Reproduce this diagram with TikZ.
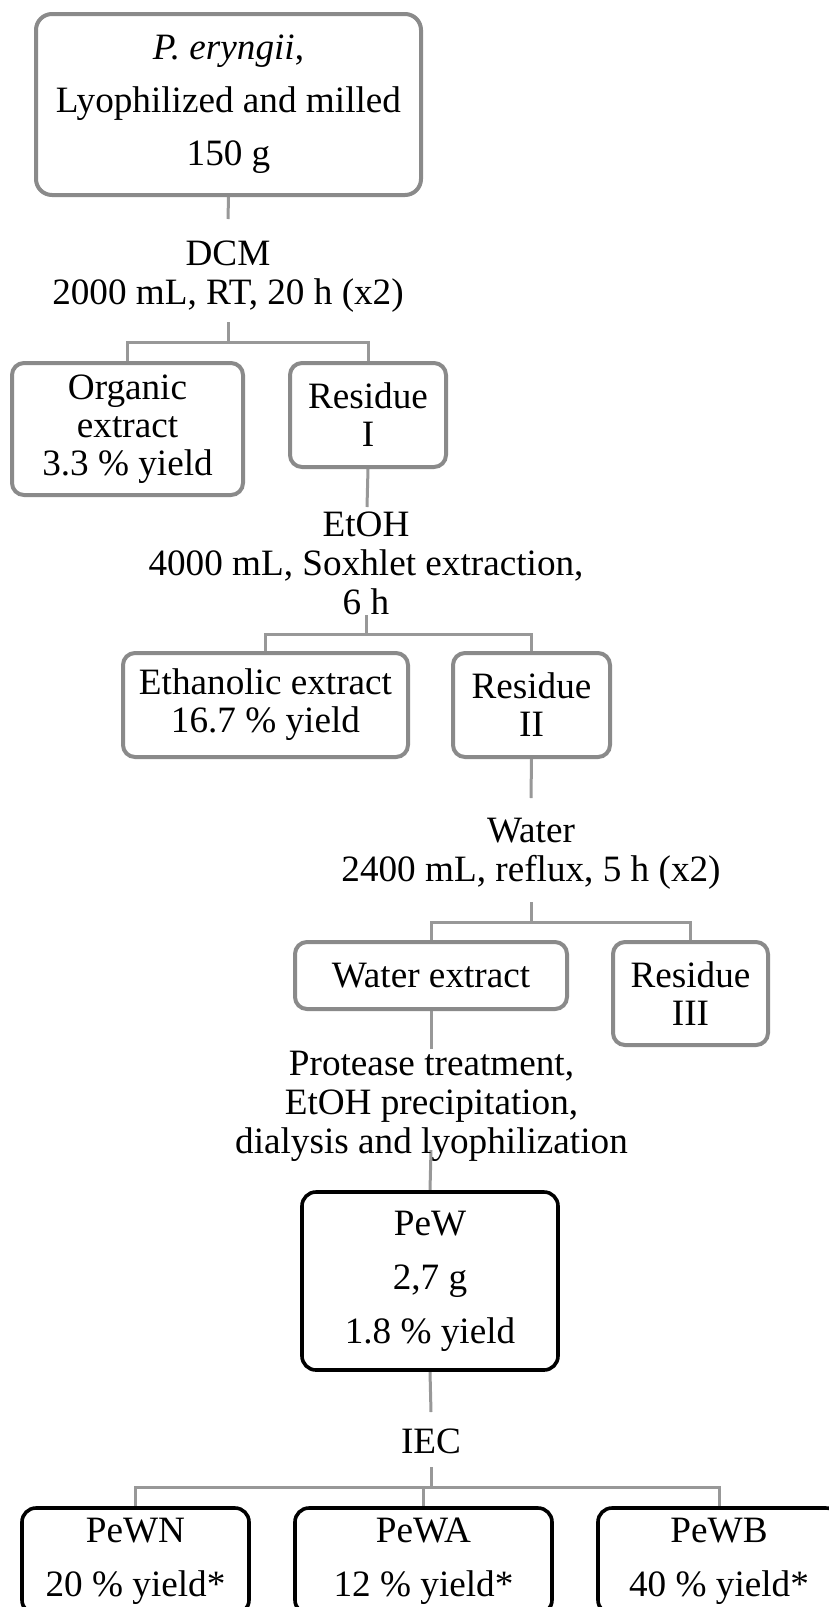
\documentclass[tikz,border=0pt]{standalone}
\usepackage{fontspec}
\setmainfont{Liberation Serif}
\usetikzlibrary{backgrounds}
\definecolor{boxgray}{RGB}{138,138,138}
\definecolor{linegray}{RGB}{152,152,152}
\begin{document}
\begin{tikzpicture}[x=0.5pt,y=-0.5pt,
  graybox/.style={draw=boxgray, line width=2pt, rounded corners=6pt, align=center, font=\fontsize{18.6}{19}\selectfont, inner sep=0pt},
  blackbox/.style={draw=black, line width=1.8pt, rounded corners=7pt, align=center, font=\fontsize{18.6}{27}\selectfont, inner sep=0pt},
  lbl/.style={align=center, font=\fontsize{18.6}{19.5}\selectfont, inner sep=0pt, anchor=north},
  conn/.style={draw=linegray, line width=1.5pt}]
\useasboundingbox (0,0) rectangle (829,1607);
\clip (0,0) rectangle (829,1607);

% boxes
\node[graybox, minimum width=192.5pt, minimum height=90.5pt, rounded corners=8pt, font=\fontsize{18.6}{26.5}\selectfont] (top) at (228.5,104.5) {\textit{P. eryngii},\\Lyophilized and milled\\150 g};
\node[graybox, minimum width=115.5pt, minimum height=66pt] (org) at (127.5,429) {Organic\\extract\\3.3 \% yield};
\node[graybox, minimum width=78pt, minimum height=52pt] (res1) at (368,415) {Residue\\I};
\node[graybox, minimum width=142.5pt, minimum height=52pt] (eth) at (265.5,705) {Ethanolic extract\\16.7 \% yield};
\node[graybox, minimum width=78.5pt, minimum height=52pt] (res2) at (531.5,705) {Residue\\II};
\node[graybox, minimum width=136pt, minimum height=33.5pt] (wext) at (431,975.5) {Water extract};
\node[graybox, minimum width=77.5pt, minimum height=51.5pt] (res3) at (690.5,993.5) {Residue\\III};
\node[blackbox, minimum width=128pt, minimum height=89pt] (pew) at (430,1281) {PeW\\2,7 g\\1.8 \% yield};
\node[blackbox, minimum width=113.5pt, minimum height=53pt] (pewn) at (135.5,1561) {PeWN\\20 \% yield*};
\node[blackbox, minimum width=128.5pt, minimum height=53pt] (pewa) at (423.5,1561) {PeWA\\12 \% yield*};
\node[blackbox, minimum width=121pt, minimum height=53pt] (pewb) at (719,1561) {PeWB\\40 \% yield*};

% labels
\node[lbl] (dcm) at (228,240) {DCM\\2000 mL, RT, 20 h (x2)};
\node[lbl] (etoh) at (366,511) {EtOH\\4000 mL, Soxhlet extraction,\\6 h};
\node[lbl] (water) at (531,818) {Water\\2400 mL, reflux, 5 h (x2)};
\node[lbl] (prot) at (431.5,1051) {Protease treatment,\\EtOH precipitation,\\dialysis and lyophilization};
\node[lbl] (iec) at (431,1428) {IEC};

% connector points
\coordinate (c1) at (228,219);
\coordinate (c2) at (228,322);
\coordinate (j1) at (228,342);
\coordinate (c3) at (367,507);
\coordinate (c4) at (366,615);
\coordinate (j2) at (366,634);
\coordinate (c5) at (531,798);
\coordinate (c6) at (531,902);
\coordinate (j3) at (531,922);
\coordinate (c7) at (431,1049);
\coordinate (c8) at (431,1150);
\coordinate (c9) at (431,1412);
\coordinate (c10) at (431,1467);
\coordinate (j4) at (431,1487);

\begin{scope}[on background layer]
\draw[conn] (top.south) -- (c1);
\draw[conn] (c2) -- (j1);
\draw[conn] (org.north) |- (j1) -| (res1.north);
\draw[conn] (res1.south) -- (c3);
\draw[conn] (c4) -- (j2);
\draw[conn] (eth.north) |- (j2) -| (res2.north);
\draw[conn] (res2.south) -- (c5);
\draw[conn] (c6) -- (j3);
\draw[conn] (wext.north) |- (j3) -| (res3.north);
\draw[conn] (wext.south) -- (c7);
\draw[conn] (c8) -- (pew.north);
\draw[conn] (pew.south) -- (c9);
\draw[conn] (c10) -- (j4);
\draw[conn] (pewn.north) |- (j4) -| (pewb.north);
\draw[conn] (pewa.north) -- (pewa.north |- j4);
\end{scope}
\end{tikzpicture}
\end{document}
